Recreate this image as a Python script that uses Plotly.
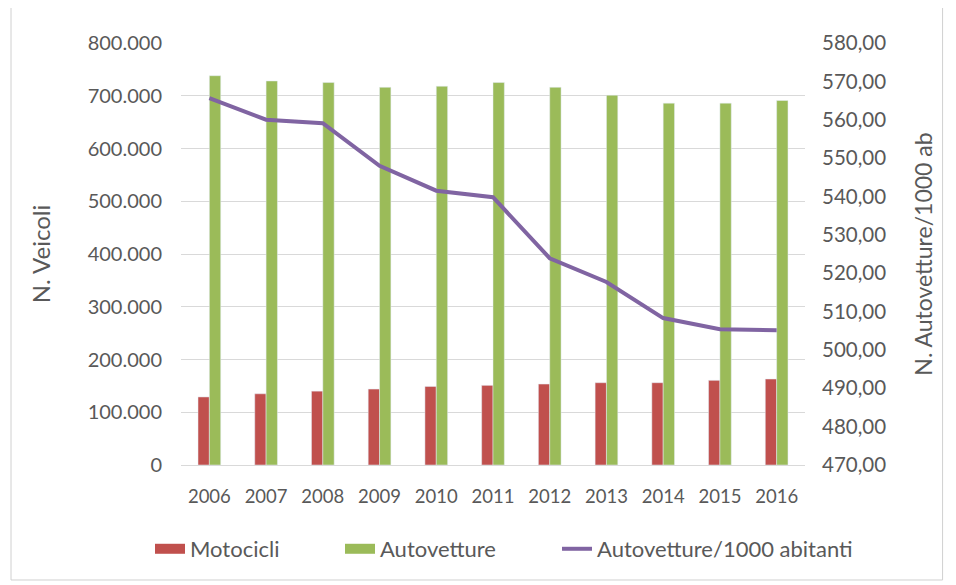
import plotly.graph_objects as go

years = ["2006", "2007", "2008", "2009", "2010", "2011", "2012", "2013", "2014", "2015", "2016"]
motocicli = [129000, 135000, 140000, 144000, 149000, 151000, 153500, 156000, 156000, 160500, 163000]
autovetture = [738000, 728000, 725000, 716000, 718000, 725000, 716000, 701000, 686000, 686000, 691000]
auto_per_1000 = [565.6, 560.0, 559.1, 548.0, 541.5, 539.8, 523.9, 517.7, 508.3, 505.4, 505.1]

FONT = "Lato"
GRAY = "#595959"
RED = "#c0504d"
GREEN = "#9bbb59"
PURPLE = "#8064a2"

fig = go.Figure()
fig.add_trace(go.Bar(x=years, y=motocicli, name="Motocicli", marker_color=RED,
                     legendgroup="m", showlegend=False))
fig.add_trace(go.Bar(x=years, y=autovetture, name="Autovetture", marker_color=GREEN,
                     legendgroup="a", showlegend=False))
fig.add_trace(go.Scatter(x=years, y=auto_per_1000, name="Autovetture/1000 abitanti", mode="lines",
                         line=dict(color=PURPLE, width=4), yaxis="y2", legend="legend3"))
# legend swatches (wide rectangles like the original)
fig.add_trace(go.Scatter(x=[None], y=[None], mode="lines", name="Motocicli", legendgroup="m",
                         line=dict(color=RED, width=10), legend="legend"))
fig.add_trace(go.Scatter(x=[None], y=[None], mode="lines", name="Autovetture", legendgroup="a",
                         line=dict(color=GREEN, width=10), legend="legend2"))

leg_common = dict(orientation="h", y=-0.199, yanchor="middle", xanchor="left",
                  font=dict(size=22, color=GRAY), itemwidth=30, bgcolor="rgba(0,0,0,0)")

fig.update_layout(
    width=956, height=585,
    margin=dict(l=173, r=159, t=35, b=128, autoexpand=False),
    paper_bgcolor="white", plot_bgcolor="white",
    separators=",.",
    barmode="group", bargap=0.6, bargroupgap=0,
    font=dict(family=FONT, size=20, color=GRAY),
    xaxis=dict(showgrid=False, showline=True, linecolor="#d9d9d9", ticks="", automargin=False,
               ticklabelstandoff=15, tickfont=dict(size=18.5, color=GRAY)),
    yaxis=dict(range=[0, 800000], dtick=100000, tickformat=",d", showgrid=True, automargin=False,
               gridcolor="#d9d9d9", zeroline=False, ticks="", ticklabelstandoff=18,
               tickfont=dict(size=20, color=GRAY),
               title=dict(text="N. Veicoli", font=dict(size=24, color=GRAY), standoff=30)),
    yaxis2=dict(range=[470, 580], dtick=10, tickformat=",.2f", overlaying="y", side="right",
                showgrid=False, zeroline=False, ticks="", ticklabelstandoff=16, automargin=False,
                tickfont=dict(size=20.5, color=GRAY),
                title=dict(text="N. Autovetture/1000 ab", font=dict(size=23, color=GRAY), standoff=30)),
    legend=dict(x=-0.0497, **leg_common),
    legend2=dict(x=0.2548, **leg_common),
    legend3=dict(x=0.6026, **leg_common),
    shapes=[dict(type="rect", xref="paper", yref="paper", x0=-0.2724, x1=1.2205,
                 y0=-0.2725, y1=1.0948, line=dict(color="#d0d0d0", width=1))],
)

fig.write_html("out.html")
